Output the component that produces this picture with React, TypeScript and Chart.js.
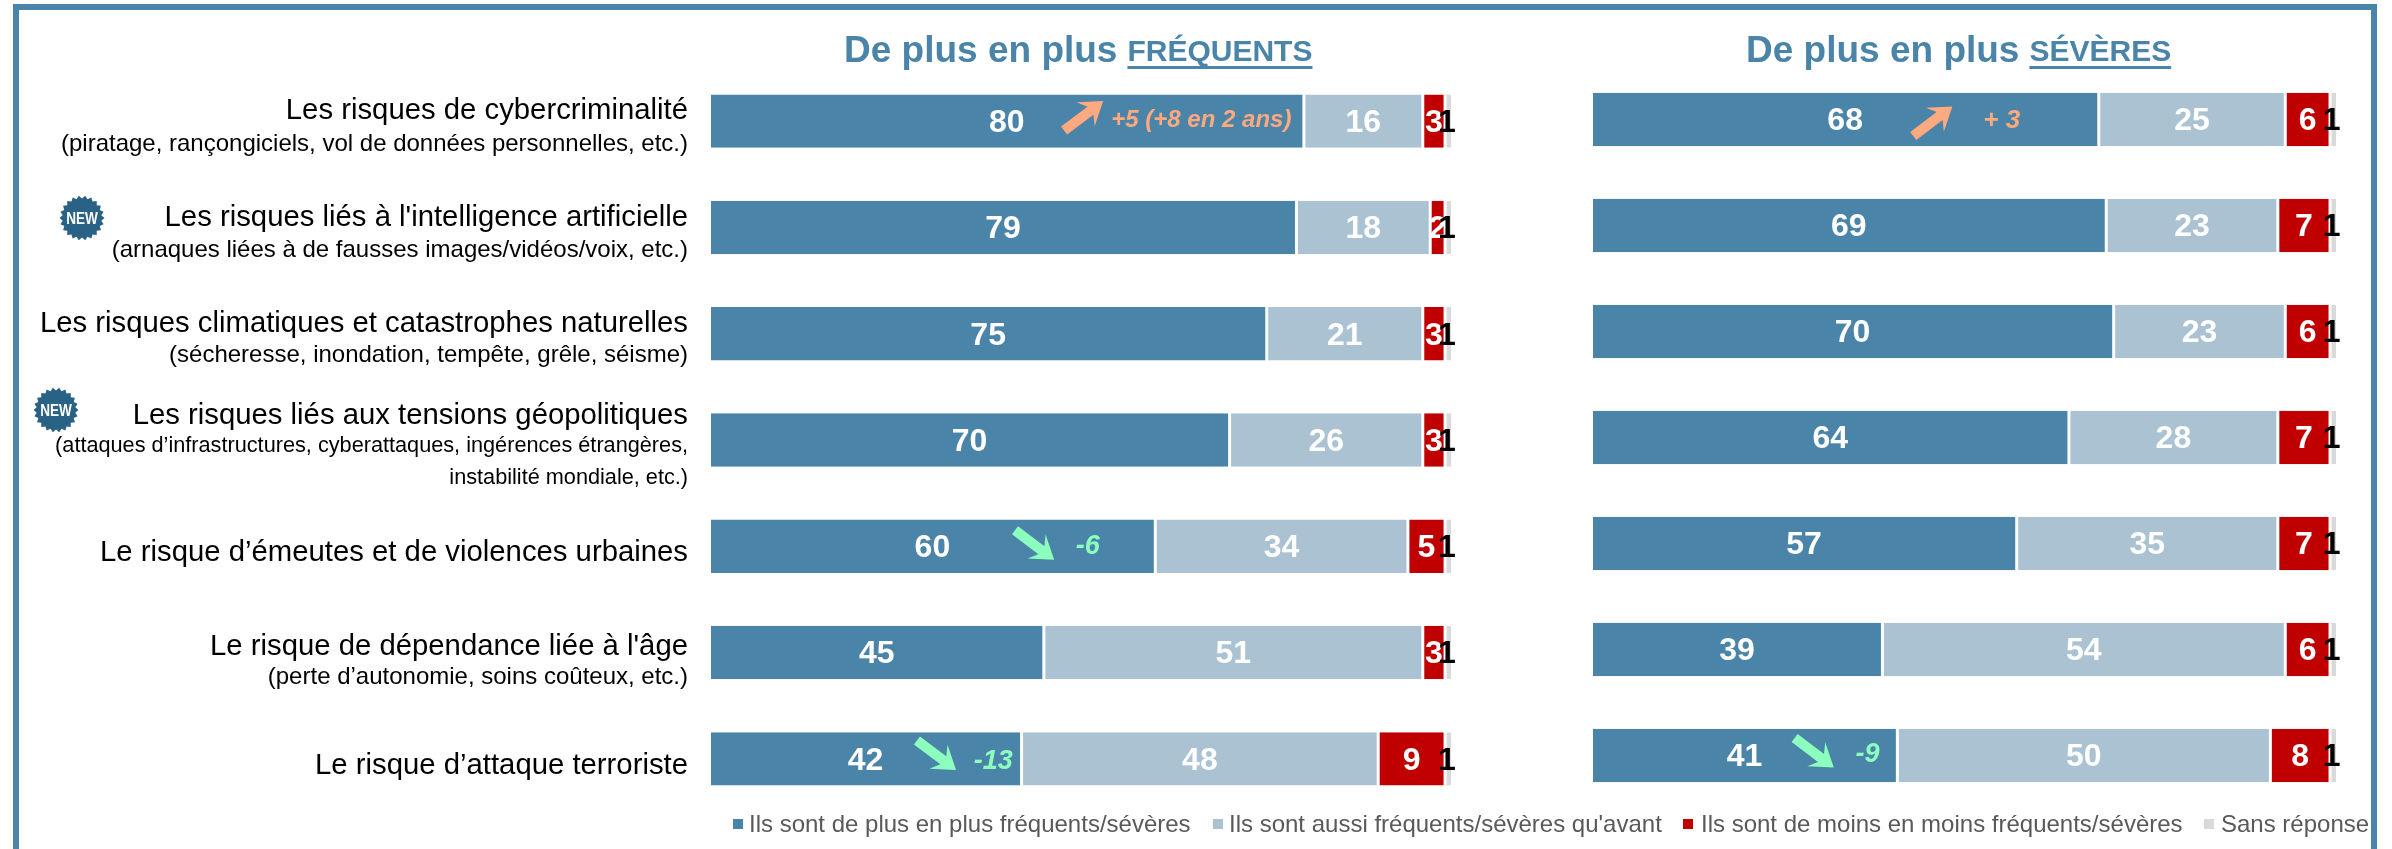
import React, { useEffect, useRef } from "react";
import { Chart, registerables } from "chart.js";

Chart.register(...registerables);

const FONT = '"Liberation Sans", Arial, sans-serif';
const BLUE = "#4A84A9";
const LIGHT = "#ABC2D3";
const RED = "#C00000";
const GREY = "#D9D9D9";
const ORANGE = "#FFA97F";
const GREEN = "#8CFFBE";

const mainLabels = [
  "Les risques de cybercriminalité",
  "Les risques liés à l'intelligence artificielle",
  "Les risques climatiques et catastrophes naturelles",
  "Les risques liés aux tensions géopolitiques",
  "Le risque d’émeutes et de violences urbaines",
  "Le risque de dépendance liée à l'âge",
  "Le risque d’attaque terroriste",
];
const subLabels = [
  ["(piratage, rançongiciels, vol de données personnelles, etc.)"],
  ["(arnaques liées à de fausses images/vidéos/voix, etc.)"],
  ["(sécheresse, inondation, tempête, grêle, séisme)"],
  ["(attaques d’infrastructures, cyberattaques, ingérences étrangères,", "instabilité mondiale, etc.)"],
  [],
  ["(perte d’autonomie, soins coûteux, etc.)"],
  [],
];
const seriesNames = [
  "Ils sont de plus en plus fréquents/sévères",
  "Ils sont aussi fréquents/sévères qu'avant",
  "Ils sont de moins en moins fréquents/sévères",
  "Sans réponse",
];

const freqMore = [80, 79, 75, 70, 60, 45, 42];
const freqSame = [16, 18, 21, 26, 34, 51, 48];
const freqLess = [3, 2, 3, 3, 5, 3, 9];
const freqNone = [1, 1, 1, 1, 1, 1, 1];

const sevMore = [68, 69, 70, 64, 57, 39, 41];
const sevSame = [25, 23, 23, 28, 35, 54, 50];
const sevLess = [6, 7, 6, 7, 7, 6, 8];
const sevNone = [1, 1, 1, 1, 1, 1, 1];

// row, arrow value position, text value position, text, direction, arrow dy, text dy, text size
const freqNotes = [
  { row: 0, ax: 50.3, tx: 66.2, text: "+5 (+8 en 2 ans)", up: true, ady: -5, tdy: -2, size: 24 },
  { row: 4, ax: 43.7, tx: 50.9, text: "-6", up: false, ady: -1.5, tdy: -1, size: 27 },
  { row: 6, ax: 30.5, tx: 38.2, text: "-13", up: false, ady: -4, tdy: 1.5, size: 27 },
];
const sevNotes = [
  { row: 0, ax: 45.7, tx: 55, text: "+ 3", up: true, ady: 2, tdy: 0.5, size: 26 },
  { row: 6, ax: 29.8, tx: 37, text: "-9", up: false, ady: -3, tdy: -1.5, size: 27 },
];

const labelOffsets = [
  [-11, 22],
  [-11, 22],
  [-11, 21],
  [-25, 5, 37],
  [6],
  [-7, 24],
  [6],
];
const subSizes = [24, 24, 24, 21.7, 24, 24, 24];
const badgeRows = [
  { x: 82, y: 218 },
  { x: 56, y: 410 },
];
const legendPos = [
  { box: 733, text: 749 },
  { box: 1213, text: 1229 },
  { box: 1683, text: 1701 },
  { box: 2204, text: 2221 },
];
const legendColors = [BLUE, LIGHT, RED, GREY];

function text(ctx: CanvasRenderingContext2D, s: string, x: number, y: number, font: string, color: string, align: CanvasTextAlign = "center") {
  ctx.font = font;
  ctx.fillStyle = color;
  ctx.textAlign = align;
  ctx.textBaseline = "middle";
  ctx.fillText(s, x, y);
}

function arrow(ctx: CanvasRenderingContext2D, cx: number, cy: number, up: boolean, color: string) {
  ctx.save();
  ctx.translate(cx, cy);
  ctx.rotate(((up ? -37 : 37) * Math.PI) / 180);
  ctx.fillStyle = color;
  ctx.beginPath();
  ctx.moveTo(-24, -5);
  ctx.lineTo(9, -5);
  ctx.lineTo(3, -15);
  ctx.lineTo(25, 0);
  ctx.lineTo(3, 15);
  ctx.lineTo(9, 5);
  ctx.lineTo(-24, 5);
  ctx.closePath();
  ctx.fill();
  ctx.restore();
}

function badge(ctx: CanvasRenderingContext2D, x: number, y: number) {
  ctx.fillStyle = "#2A6286";
  ctx.beginPath();
  const n = 22;
  for (let i = 0; i < n * 2; i++) {
    const r = i % 2 === 0 ? 22.5 : 19.5;
    const a = (i * Math.PI) / n;
    const px = x + r * Math.cos(a);
    const py = y + r * Math.sin(a);
    if (i === 0) ctx.moveTo(px, py);
    else ctx.lineTo(px, py);
  }
  ctx.closePath();
  ctx.fill();
  ctx.save();
  ctx.translate(x, y);
  ctx.scale(0.8, 1);
  text(ctx, "NEW", 0, 1, `bold 17px ${FONT}`, "#FFFFFF");
  ctx.restore();
}

const valueLabels = {
  id: "valueLabels",
  afterDatasetsDraw(chart: any) {
    const ctx = chart.ctx;
    chart.data.datasets.forEach((ds: any, di: number) => {
      const meta = chart.getDatasetMeta(di);
      meta.data.forEach((el: any, i: number) => {
        const c = el.getCenterPoint();
        const dx = di === 3 ? -2 : 0;
        text(ctx, String(ds.data[i]), c.x + dx, c.y + 2, `bold 32px ${FONT}`, di === 3 ? "#000000" : "#FFFFFF");
      });
    });
  },
};

const notesPlugin = {
  id: "notes",
  afterDatasetsDraw(chart: any, _a: any, opts: any) {
    const ctx = chart.ctx;
    const xs = chart.scales.x;
    const ys = chart.scales.y;
    for (const n of opts.items) {
      const y = ys.getPixelForValue(n.row);
      const color = n.up ? ORANGE : GREEN;
      arrow(ctx, xs.getPixelForValue(n.ax), y + n.ady, n.up, color);
      text(ctx, n.text, xs.getPixelForValue(n.tx), y + n.tdy + 1, `italic bold ${n.size}px ${FONT}`, color);
    }
  },
};

const titlePlugin = {
  id: "panelTitle",
  afterDraw(chart: any, _a: any, opts: any) {
    const ctx = chart.ctx;
    text(ctx, opts.lead, opts.x, 52, `bold ${opts.leadSize}px ${FONT}`, BLUE, "left");
    const w = ctx.measureText(opts.lead).width;
    const x2 = opts.x + w + 10;
    text(ctx, opts.word, x2, 53, `bold ${opts.wordSize}px ${FONT}`, BLUE, "left");
    const w2 = ctx.measureText(opts.word).width;
    ctx.fillStyle = BLUE;
    ctx.fillRect(x2, 66, w2, 3);
  },
};

const sidePlugin = {
  id: "side",
  afterDraw(chart: any) {
    const ctx = chart.ctx;
    const ys = chart.scales.y;
    mainLabels.forEach((m, i) => {
      const y = ys.getPixelForValue(i);
      const offs = labelOffsets[i];
      text(ctx, m, 688, y + offs[0] + 1, `29.3px ${FONT}`, "#000000", "right");
      subLabels[i].forEach((s, j) => {
        text(ctx, s, 688, y + offs[j + 1] + 1, `${subSizes[i]}px ${FONT}`, "#000000", "right");
      });
    });
    badgeRows.forEach((b) => badge(ctx, b.x, b.y));
    seriesNames.forEach((s, i) => {
      ctx.fillStyle = legendColors[i];
      ctx.fillRect(legendPos[i].box, 819, 10, 10);
      text(ctx, s, legendPos[i].text, 825, `24px ${FONT}`, "#595959", "left");
    });
  },
};

function makeChart(canvas: HTMLCanvasElement, series: number[][], notes: any[], title: any, padding: any, extra: any[]) {
  return new Chart(canvas, {
    type: "bar",
    data: {
      labels: mainLabels,
      datasets: series.map((d, i) => ({
        label: seriesNames[i],
        data: d,
        backgroundColor: legendColors[i],
        borderColor: "#FFFFFF",
        borderWidth: { top: 0, bottom: 0, left: 1.5, right: 1.5 },
        borderSkipped: false,
        barPercentage: 0.503,
        categoryPercentage: 1,
      })),
    },
    options: {
      indexAxis: "y",
      responsive: false,
      animation: false,
      layout: { padding },
      scales: {
        x: { stacked: true, min: 0, max: 100, display: false },
        y: { stacked: true, display: false },
      },
      plugins: {
        legend: { display: false },
        tooltip: { enabled: false },
        notes: { items: notes },
        panelTitle: title,
      },
    } as any,
    plugins: [valueLabels, notesPlugin, titlePlugin, ...extra],
  } as any);
}

export default function App() {
  const leftRef = useRef<HTMLCanvasElement>(null);
  const rightRef = useRef<HTMLCanvasElement>(null);

  useEffect(() => {
    const a = makeChart(
      leftRef.current!,
      [freqMore, freqSame, freqLess, freqNone],
      freqNotes,
      { lead: "De plus en plus", word: "FRÉQUENTS", x: 844, leadSize: 37, wordSize: 30 },
      { left: 709.5, right: 2392 - 1452.5, top: 68, bottom: 849 - 812 },
      [sidePlugin]
    );
    const b = makeChart(
      rightRef.current!,
      [sevMore, sevSame, sevLess, sevNone],
      sevNotes,
      { lead: "De plus en plus", word: "SÉVÈRES", x: 1746, leadSize: 37, wordSize: 30 },
      { left: 1591.5, right: 2392 - 2337.5, top: 66.5, bottom: 849 - 808.5 },
      []
    );
    return () => {
      a.destroy();
      b.destroy();
    };
  }, []);

  const abs: React.CSSProperties = { position: "absolute", left: 0, top: 0 };
  return (
    <div style={{ position: "fixed", left: 0, top: 0, width: 2392, height: 849, overflow: "hidden", background: "#FFFFFF" }}>
      <div
        style={{
          position: "absolute",
          left: 13,
          top: 4,
          width: 2352,
          height: 860,
          borderStyle: "solid",
          borderColor: BLUE,
          borderWidth: "6px 6px 0 6px",
        }}
      />
      <canvas ref={leftRef} width={2392} height={849} style={abs} />
      <canvas ref={rightRef} width={2392} height={849} style={abs} />
    </div>
  );
}
